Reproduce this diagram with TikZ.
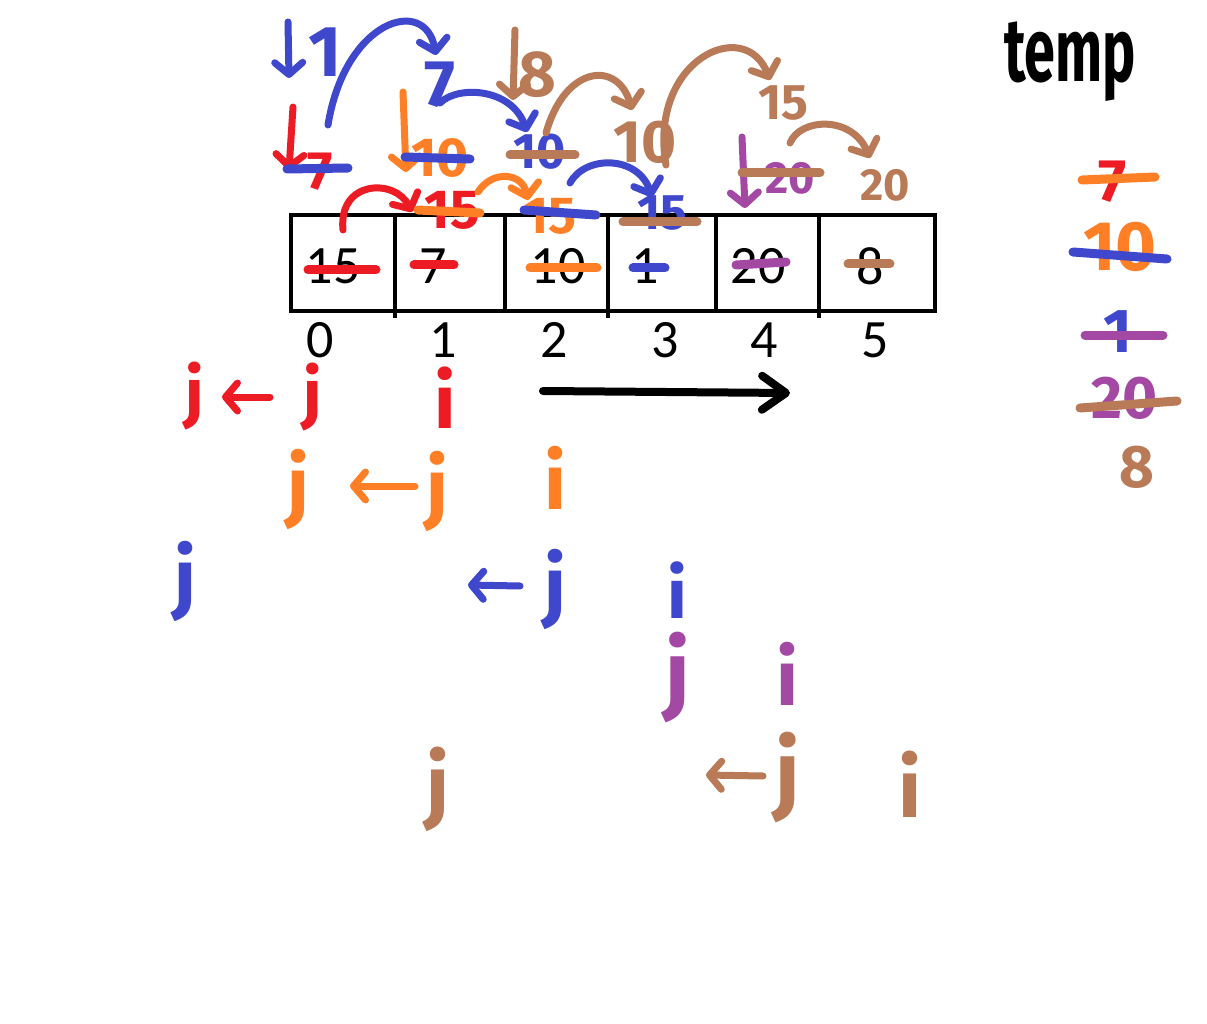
\documentclass[tikz,border=0pt]{standalone}
\usepackage{fontspec}
\setmainfont{Carlito}
\newfontfamily\hand{Fira Sans}
\usetikzlibrary{arrows.meta}
\definecolor{pred}{HTML}{ED1C24}
\definecolor{porange}{HTML}{FF7F27}
\definecolor{pblue}{HTML}{3F48CC}
\definecolor{ppurple}{HTML}{A349A4}
\definecolor{pbrown}{HTML}{B97A57}
\begin{document}
\begin{tikzpicture}[x=1pt,y=-1pt,
  cell/.style={font=\fontsize{54}{60}\selectfont,inner sep=0pt},
  hw/.style={font=\hand\bfseries\fontsize{#1}{#1}\selectfont,inner sep=0pt},
  strike/.style={line width=9pt,line cap=round},
  harrow/.style={line width=7pt,line cap=round,line join=round,
     -{Straight Barb[length=12pt,width=28pt,line width=0pt 1,round]}},
  box/.style={line width=4pt}]
\useasboundingbox (0,0) rectangle (1207,1024);
\fill[white] (0,0) rectangle (1207,1024);

% ---------- the array ----------
\draw[box] (291,215) rectangle (935,311);
\foreach \x/\e in {395/318,505/311,608/318,716/311,819/318}
  \draw[box] (\x,215) -- (\x,\e);

\node[cell] (c0) at (333,266) {15};
\node[cell] (c1) at (433,266) {7};
\node[cell] (c2) at (558,266) {10};
\node[cell] (c3) at (645,266) {1};
\node[cell] (c4) at (758,266) {20};
\node[cell] (c5) at (870,266) {8};

\draw[strike,pred]    (308,270) -- (376,270);
\draw[strike,pred]    (414,265) -- (454,265);
\draw[strike,porange] (530,268) -- (597,268);
\draw[strike,pblue]   (633,268) -- (665,268);
\draw[strike,ppurple] (736,265) -- (786,262);
\draw[strike,pbrown]  (848,264) -- (890,264);

\node[cell] (i0) at (320,340) {0};
\node[cell] (i1) at (443,340) {1};
\node[cell] (i2) at (554,340) {2};
\node[cell] (i3) at (665,340) {3};
\node[cell] (i4) at (764,340) {4};
\node[cell] (i5) at (875,340) {5};

% ---------- direction arrow ----------
\coordinate (dirA) at (543,391);
\coordinate (dirB) at (790,393);
\draw[line width=8pt,line cap=round,-{Straight Barb[length=24pt,width=34pt,line width=0pt 1,round]}] (dirA) -- (dirB);

% ---------- temp column ----------
\node[hw=90,xscale=0.62] (temp) at (1070,62) {temp};
\node[hw=60,pred] (t7) at (1113,182) {7};
\draw[strike,porange] (1082,180) -- (1155,177);
\node[hw=70,porange] (t10) at (1120,247) {10};
\draw[strike,pblue] (1073,252) -- (1167,259);
\node[hw=62,pblue] (t1) at (1118,332) {1};
\draw[strike,ppurple] (1085,335) -- (1163,335);
\node[hw=60,ppurple] (t20) at (1125,398) {20};
\draw[strike,pbrown] (1080,408) -- (1177,401);
\node[hw=60,pbrown] (t8) at (1137,467) {8};

% ---------- red pass ----------
\coordinate (rdA) at (293,107); \coordinate (rdB) at (289,170);
\draw[harrow,pred] (rdA) -- (rdB);
\node[hw=54,pred] (r7) at (320,172) {7};
\draw[strike,pblue] (287,169) -- (348,168);
\draw[harrow,pred] (343,230) .. controls (338,180) and (395,178) .. (412,212);
\node[hw=55,pred] (r15) at (452,210) {15};
\draw[strike,porange] (418,210) -- (480,213);

% ---------- orange pass ----------
\draw[harrow,porange] (403,92) -- (406,172);
\node[hw=55,porange] (o10) at (440,158) {10};
\draw[strike,pblue] (405,157) -- (470,159);
\draw[harrow,porange] (478,192) .. controls (492,170) and (522,172) .. (528,200);
\node[hw=52,porange] (o15) at (550,216) {15};
\draw[strike,pblue] (524,210) -- (596,215);

% ---------- blue pass ----------
\draw[harrow,pblue] (288,22) -- (289,78);
\node[hw=72,pblue] (b1) at (325,52) {1};
\draw[harrow,pblue] (328,125) .. controls (345,20) and (425,-5) .. (436,55);
\node[hw=66,pblue] (b7) at (440,85) {7};
\draw[harrow,pblue] (440,103) .. controls (458,85) and (512,88) .. (527,132);
\node[hw=50,pblue] (b10) at (540,152) {10};
\draw[strike,pbrown] (510,155) -- (575,155);
\draw[harrow,pblue] (570,183) .. controls (585,155) and (638,155) .. (652,197);
\node[hw=50,pblue] (b15) at (662,213) {15};
\draw[strike,pbrown] (623,222) -- (697,222);

% ---------- purple pass ----------
\draw[harrow,ppurple] (742,137) -- (745,208);
\node[hw=45,ppurple] (p20) at (790,178) {20};
\draw[strike,pbrown] (742,173) -- (820,173);

% ---------- brown pass ----------
\draw[harrow,pbrown] (515,30) -- (513,100);
\node[hw=65,pbrown] (n8) at (537,75) {8};
\draw[harrow,pbrown] (546,133) .. controls (565,65) and (618,60) .. (632,110);
\node[hw=60,pbrown] (n10) at (645,142) {10};
\draw[harrow,pbrown] (666,165) .. controls (648,60) and (745,15) .. (770,80);
\node[hw=50,pbrown] (n15) at (783,103) {15};
\draw[harrow,pbrown] (790,143) .. controls (800,118) and (852,115) .. (870,158);
\node[hw=45,pbrown] (n20) at (885,185) {20};

% ---------- j / i rows ----------
\node[hw=66,pred] (rj1) at (195,396) {j};
\node[hw=66,pred] (rj2) at (313,397) {j};
\node[hw=76,pred] (ri)  at (445,398) {i};
\coordinate (ra1) at (270,397); \coordinate (ra2) at (222,397);
\draw[harrow,pred] (ra1) -- (ra2);

\node[hw=78,porange] (oj1) at (298,489) {j};
\node[hw=78,porange] (oj2) at (437,491) {j};
\node[hw=78,porange] (oi)  at (555,478) {i};
\coordinate (oa1) at (415,486); \coordinate (oa2) at (350,486);
\draw[harrow,porange] (oa1) -- (oa2);

\node[hw=78,pblue] (bj1) at (185,581) {j};
\node[hw=78,pblue] (bj2) at (555,589) {j};
\node[hw=70,pblue] (bi)  at (677,590) {i};
\coordinate (ba1) at (520,586); \coordinate (ba2) at (468,585);
\draw[harrow,pblue] (ba1) -- (ba2);

\node[hw=88,ppurple] (pj) at (678,678) {j};
\node[hw=78,ppurple] (pi) at (787,674) {i};

\node[hw=82,pbrown] (nj1) at (438,789) {j};
\node[hw=88,pbrown] (nj2) at (788,778) {j};
\node[hw=82,pbrown] (ni)  at (910,784) {i};
\coordinate (na1) at (763,776); \coordinate (na2) at (706,775);
\draw[harrow,pbrown] (na1) -- (na2);
\end{tikzpicture}
\end{document}
